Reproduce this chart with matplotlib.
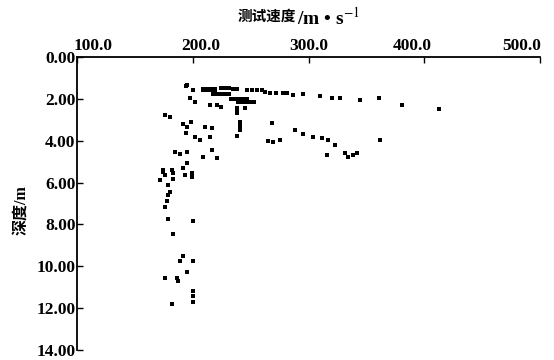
import matplotlib
matplotlib.use("Agg")
import matplotlib.pyplot as plt
from matplotlib.ticker import FormatStrFormatter, NullFormatter
from matplotlib.transforms import blended_transform_factory, ScaledTranslation

plt.rcParams['font.family'] = ['Liberation Serif', 'DejaVu Serif', 'Noto Sans CJK SC']
plt.rcParams['mathtext.fontset'] = 'stix'

# velocity (m/s) and depth (m) of measured points
velocity = [
    194.2, 208.9, 212.3, 215.8, 219.3, 208.9, 212.3, 215.8, 219.3,
    224.4, 227.9, 231.3, 234.8, 238.2, 246.9, 251.2, 255.5, 259.8,
    262.4, 266.7, 271.9, 278.0, 281.4, 286.6, 295.3, 309.9, 320.3,
    327.2, 344.5, 360.9, 380.8, 412.7,
    194.7, 200.2, 197.6, 201.9,
    217.5, 221.0, 224.4, 227.9, 231.3,
    233.0, 236.5, 240.0, 243.4, 246.9,
    239.1, 242.5, 246.0, 249.5, 252.9,
    214.9, 220.9, 224.4, 238.2, 238.2, 238.2, 245.1,
    176.0, 180.3, 191.6, 195.0, 198.5, 210.6, 216.6,
    240.8, 240.8, 240.8, 268.5,
    194.2, 201.9, 206.3, 214.9, 238.2, 265.0, 269.3, 275.4,
    288.3, 295.2, 303.9, 311.7, 316.8, 322.9, 361.8,
    184.7, 189.0, 195.0, 208.9, 216.6, 221.0,
    316.0, 331.5, 334.1, 338.4, 341.9,
    174.3, 182.1, 191.6, 195.0,
    174.3, 176.0, 182.9, 193.3, 199.4, 199.4, 171.7, 182.9,
    178.6, 180.3, 178.6, 177.8, 176.0,
    178.6, 200.2, 182.9,
    191.6, 189.0, 200.2, 195.0,
    176.0, 186.4, 187.3,
    200.2, 200.2, 200.2, 182.1,
]
depth = [
    1.38, 1.52, 1.52, 1.52, 1.52, 1.57, 1.57, 1.57, 1.57,
    1.48, 1.50, 1.50, 1.52, 1.52, 1.57, 1.57, 1.57, 1.57,
    1.67, 1.71, 1.71, 1.71, 1.71, 1.81, 1.76, 1.86, 1.95,
    1.95, 2.05, 1.95, 2.29, 2.48,
    1.33, 1.57, 1.95, 2.14,
    1.76, 1.76, 1.76, 1.76, 1.76,
    2.00, 2.00, 2.00, 2.00, 2.00,
    2.17, 2.17, 2.17, 2.17, 2.17,
    2.29, 2.29, 2.38, 2.43, 2.57, 2.67, 2.43,
    2.76, 2.86, 3.19, 3.33, 3.10, 3.33, 3.38,
    3.10, 3.29, 3.48, 3.14,
    3.62, 3.81, 3.95, 3.81, 3.76, 4.00, 4.05, 3.95,
    3.48, 3.67, 3.81, 3.86, 3.95, 4.19, 3.95,
    4.52, 4.62, 4.52, 4.76, 4.43, 4.81,
    4.67, 4.57, 4.76, 4.67, 4.57,
    5.38, 5.38, 5.29, 5.05,
    5.48, 5.62, 5.52, 5.62, 5.52, 5.71, 5.86, 5.81,
    6.10, 6.43, 6.57, 6.90, 7.19,
    7.76, 7.86, 8.48,
    9.52, 9.76, 9.76, 10.29,
    10.57, 10.57, 10.71,
    11.19, 11.43, 11.71, 11.81,
]

x_ticks = [100, 200, 300, 400, 500]
x_tick_labels = ['100.0', '200.0', '300.0', '400.0', '500.0']
y_ticks = [0, 2, 4, 6, 8, 10, 12, 14]

fig = plt.figure(figsize=(5.54, 3.6), dpi=100)
ax = fig.add_axes([77/554, 1 - 350/360, (540 - 77)/554, (350 - 57)/360])

ax.scatter(velocity, depth, marker='s', s=9, color='black', linewidths=0)

ax.set_xlim(100, 500)
ax.set_ylim(14, 0)
ax.set_xticks(x_ticks)
ax.set_yticks(y_ticks)
ax.xaxis.set_major_formatter(NullFormatter())
ax.yaxis.set_major_formatter(FormatStrFormatter('%.2f'))
ax.xaxis.tick_top()
ax.tick_params(axis='both', direction='in', length=4, width=1.0, labelsize=12.5, pad=1)
for lab in ax.get_yticklabels():
    lab.set_fontweight('bold')
for s in ['right', 'bottom']:
    ax.spines[s].set_visible(False)
for s in ['left', 'top']:
    ax.spines[s].set_linewidth(1.3)

# top tick labels (slightly compressed spacing as in the original print)
label_shift_px = [16, 8, 0, -12, -18]
blend = blended_transform_factory(ax.transData, ax.transAxes)
for v, txt, dx in zip(x_ticks, x_tick_labels, label_shift_px):
    tr = blend + ScaledTranslation(dx / 100, 3 / 100, fig.dpi_scale_trans)
    ax.text(v, 1.0, txt, transform=tr, ha='center', va='bottom',
            fontsize=12.5, fontweight='bold', clip_on=False)

fig.text(296/554, 1 - 17/360, '测试速度', ha='right', va='center',
         fontsize=10.5, fontweight='bold')
fig.text(297/554, 1 - 18/360, r'/m • s$^{-1}$', ha='left', va='center',
         fontsize=14, fontweight='bold')
fig.text(21/554, 1 - 210/360, '深度/m', ha='center', va='center', rotation=90,
         fontsize=11.5, fontweight='bold')

fig.savefig('out.png', dpi=100)
